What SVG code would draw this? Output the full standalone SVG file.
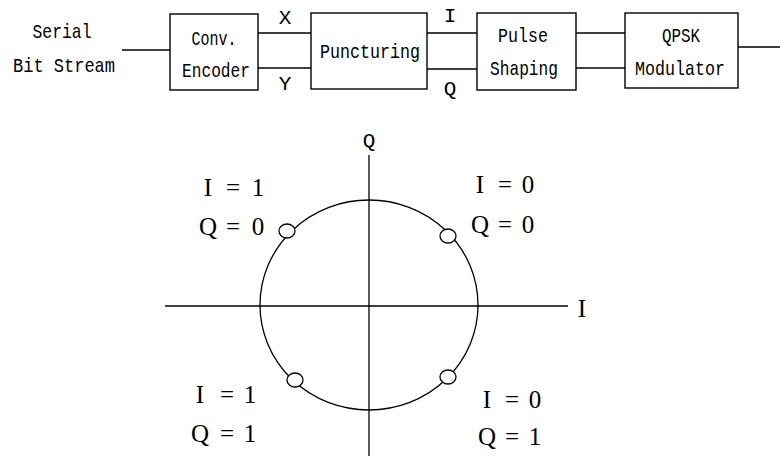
<svg xmlns="http://www.w3.org/2000/svg" width="780" height="456" viewBox="0 0 780 456">
<style>
.box{fill:#fff;stroke:#000;stroke-width:1.4}
.ln{fill:none;stroke:#000;stroke-width:1.3}
.t{font-family:"Liberation Mono","Courier New",monospace;font-size:21px;fill:#000;text-anchor:middle}
.lbl{font-family:"Liberation Serif","Times New Roman",serif;font-size:25px;fill:#000;text-anchor:middle}
.dot{fill:#fff;stroke:#000;stroke-width:1.3}
</style>
<rect width="780" height="456" fill="#fff"/>
<g id="connectors">
<line class="ln" x1="122" y1="50" x2="170" y2="50"/>
<line class="ln" x1="258" y1="33" x2="311" y2="33"/>
<line class="ln" x1="258" y1="68" x2="311" y2="68"/>
<line class="ln" x1="427" y1="33" x2="477" y2="33"/>
<line class="ln" x1="427" y1="69" x2="477" y2="69"/>
<line class="ln" x1="576" y1="33" x2="625" y2="33"/>
<line class="ln" x1="576" y1="68" x2="625" y2="68"/>
<line class="ln" x1="738" y1="47" x2="780" y2="47"/>
<text class="t" x="285" y="24">X</text>
<text class="t" x="285" y="90">Y</text>
<text class="t" x="450" y="22">I</text>
<text class="t" x="450" y="95">Q</text>
</g>
<g id="input">
<text class="t" x="62" y="38" textLength="59" lengthAdjust="spacingAndGlyphs">Serial</text>
<text class="t" x="64" y="72" textLength="102" lengthAdjust="spacingAndGlyphs">Bit Stream</text>
</g>
<g id="conv-encoder">
<rect class="box" x="170" y="14" width="88" height="76"/>
<text class="t" x="214" y="45" textLength="45" lengthAdjust="spacingAndGlyphs">Conv.</text>
<text class="t" x="216" y="77" textLength="68" lengthAdjust="spacingAndGlyphs">Encoder</text>
</g>
<g id="puncturing">
<rect class="box" x="311" y="13" width="116" height="76"/>
<text class="t" x="370" y="58" textLength="100" lengthAdjust="spacingAndGlyphs">Puncturing</text>
</g>
<g id="pulse-shaping">
<rect class="box" x="477" y="13" width="99" height="77"/>
<text class="t" x="523" y="42" textLength="50" lengthAdjust="spacingAndGlyphs">Pulse</text>
<text class="t" x="524" y="75" textLength="68" lengthAdjust="spacingAndGlyphs">Shaping</text>
</g>
<g id="qpsk-modulator">
<rect class="box" x="625" y="13" width="113" height="75"/>
<text class="t" x="681" y="42" textLength="38" lengthAdjust="spacingAndGlyphs">QPSK</text>
<text class="t" x="680" y="75" textLength="90" lengthAdjust="spacingAndGlyphs">Modulator</text>
</g>
<g id="constellation">
<line class="ln" x1="165" y1="306" x2="568" y2="306"/>
<line class="ln" x1="369" y1="155" x2="369" y2="456"/>
<ellipse class="ln" cx="369" cy="305" rx="109" ry="105"/>
<text class="t" x="369" y="147">Q</text>
<text class="lbl" x="582" y="317">I</text>
<ellipse class="dot" cx="287" cy="231" rx="8" ry="7"/>
<ellipse class="dot" cx="448" cy="236" rx="8" ry="7"/>
<ellipse class="dot" cx="295" cy="380" rx="8" ry="7"/>
<ellipse class="dot" cx="448" cy="377" rx="8" ry="7"/>
<text class="lbl" x="208 233 258" y="196">I=1</text>
<text class="lbl" x="208 233 258" y="235">Q=0</text>
<text class="lbl" x="480 505 528" y="193">I=0</text>
<text class="lbl" x="480 505 528" y="233">Q=0</text>
<text class="lbl" x="200 227 250" y="403">I=1</text>
<text class="lbl" x="200 227 250" y="442">Q=1</text>
<text class="lbl" x="487 512 535" y="408">I=0</text>
<text class="lbl" x="487 512 535" y="445">Q=1</text>
</g>
</svg>
